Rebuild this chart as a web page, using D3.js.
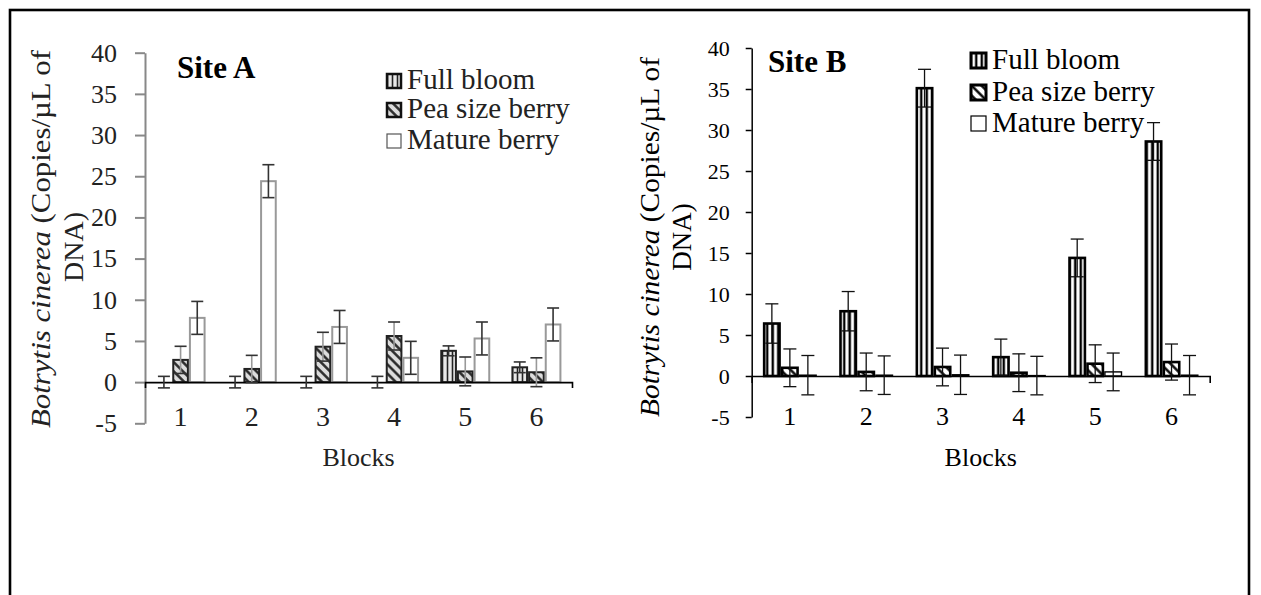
<!DOCTYPE html>
<html><head><meta charset="utf-8">
<script src="https://cdn.jsdelivr.net/npm/d3@7"></script>
<style>
html,body{margin:0;padding:0;background:#fff;}
svg{display:block;}
svg text{font-family:"Liberation Serif","Tinos","Times New Roman","DejaVu Serif",serif !important;}
</style></head>
<body>
<svg id="chart" width="1261" height="595"></svg>
<script>
const blocks = ["1","2","3","4","5","6"];
const seriesNames = ["Full bloom","Pea size berry","Mature berry"];
const yTicks = [-5,0,5,10,15,20,25,30,35,40];

const siteAFull = [0,0,0,0,3.8,1.8];
const siteAFullErr = [0.7,0.7,0.7,0.7,0.6,0.65];
const siteAPea = [2.7,1.6,4.3,5.6,1.3,1.2];
const siteAPeaErr = [1.65,1.65,1.75,1.7,1.75,1.75];
const siteAMature = [7.8,24.4,6.7,2.95,5.3,7.0];
const siteAMatureErr = [2.0,2.0,2.0,2.0,2.0,2.0];

const siteBFull = [6.4,7.9,35.1,2.3,14.4,28.6];
const siteBFullErr = [2.4,2.4,2.3,2.2,2.3,2.3];
const siteBPea = [1.0,0.5,1.1,0.4,1.5,1.7];
const siteBPeaErr = [2.3,2.3,2.3,2.3,2.3,2.2];
const siteBMature = [0.1,0.1,0.15,0.05,0.5,0.1];
const siteBMatureErr = [2.4,2.35,2.4,2.35,2.3,2.4];

const FONT = '"Liberation Serif","Tinos","Times New Roman","DejaVu Serif",serif';
const svg = d3.select("#chart");
const defs = svg.append("defs");

function vPattern(id, w, bg, fg, lw){
  const p = defs.append("pattern").attr("id",id).attr("patternUnits","userSpaceOnUse")
    .attr("width",w).attr("height",10);
  p.append("rect").attr("width",w).attr("height",10).attr("fill",bg);
  p.append("line").attr("x1",w/2).attr("x2",w/2).attr("y1",0).attr("y2",10)
    .attr("stroke",fg).attr("stroke-width",lw);
}
function dPattern(id, w, bg, fg, lw){
  const p = defs.append("pattern").attr("id",id).attr("patternUnits","userSpaceOnUse")
    .attr("width",w).attr("height",w).attr("patternTransform","rotate(-45)");
  p.append("rect").attr("width",w).attr("height",w).attr("fill",bg);
  p.append("line").attr("x1",w/2).attr("x2",w/2).attr("y1",0).attr("y2",w)
    .attr("stroke",fg).attr("stroke-width",lw);
}
vPattern("vA",5,"#e8e8e8","#222",1.6);
dPattern("dA",6.5,"#dcdcdc","#222",2.4);
vPattern("vB",5.5,"#fff","#000",2.4);
dPattern("dB",7,"#fff","#000",2.4);

// outer border
svg.append("rect").attr("x",10).attr("y",10).attr("width",1239).attr("height",640)
  .attr("fill","none").attr("stroke","#000").attr("stroke-width",2.6);

function drawPanel(cfg){
  const g = svg.append("g").attr("font-family",FONT);
  const y = d3.scaleLinear().domain([-5,40]).range([cfg.yBottom, cfg.yTop]);
  const x = d3.scaleBand().domain(blocks).range([cfg.x0, cfg.x1]);
  const s = d3.scaleBand().domain(seriesNames).range([0, cfg.groupW]);
  const off = x.bandwidth()/2 - cfg.groupW/2;

  // y axis
  const ya = g.append("g").attr("transform",`translate(${cfg.x0},0)`)
    .call(d3.axisLeft(y).tickValues(yTicks).tickSize(cfg.tickLen).tickSizeOuter(0)
      .tickPadding(cfg.tickPad).tickFormat(d=>String(d)));
  ya.attr("font-family",FONT);
  ya.select(".domain").attr("stroke",cfg.axisColor).attr("stroke-width",cfg.axisW);
  ya.selectAll(".tick line").attr("stroke",cfg.axisColor).attr("stroke-width",cfg.axisW);
  ya.selectAll(".tick text").attr("font-size",cfg.yFont).attr("fill",cfg.textColor);

  const series = [
    {name:seriesNames[0], vals:cfg.full, errs:cfg.fullErr, fill:cfg.fullFill, stroke:cfg.fullStroke, sw:cfg.fullSW},
    {name:seriesNames[1], vals:cfg.pea, errs:cfg.peaErr, fill:cfg.peaFill, stroke:cfg.peaStroke, sw:cfg.peaSW},
    {name:seriesNames[2], vals:cfg.mature, errs:cfg.matureErr, fill:"#fff", stroke:cfg.matStroke, sw:cfg.matSW}
  ];
  const bw = s.bandwidth();
  series.forEach(se=>{
    g.append("g").selectAll("rect").data(blocks).join("rect")
      .attr("x",(d)=>x(d)+off+s(se.name)+se.sw/2)
      .attr("width",bw-se.sw)
      .attr("y",(d,i)=>y(Math.max(0,se.vals[i])))
      .attr("height",(d,i)=>Math.abs(y(0)-y(se.vals[i])))
      .attr("fill",se.fill).attr("stroke",se.stroke).attr("stroke-width",se.sw)
      .attr("display",(d,i)=>se.vals[i] > 0.02 ? null : "none");
  });
  // x axis
  const xa = g.append("g").attr("transform",`translate(0,${y(0)})`)
    .call(d3.axisBottom(x).tickSizeInner(0).tickSizeOuter(cfg.endTick).tickPadding(0));
  xa.attr("font-family",FONT);
  xa.select(".domain").attr("stroke","#000").attr("stroke-width",1.6);
  xa.selectAll(".tick text").attr("dy",null).attr("y",cfg.xLabelY)
    .attr("font-size",cfg.xFont).attr("fill",cfg.textColor);

  // error bars
  series.forEach((se,si)=>{
    const eg = g.append("g");
    blocks.forEach((b,i)=>{
      const cx = x(b)+off+s(se.name)+bw/2;
      const v = se.vals[i], e = se.errs[i];
      const col = (cfg.peaErrColor && si===1) ? cfg.peaErrColor : cfg.errColor;
      eg.append("line").attr("x1",cx).attr("x2",cx).attr("y1",y(v+e)).attr("y2",y(v-e))
        .attr("stroke",col).attr("stroke-width",cfg.errW);
      [v+e, v-e].forEach(t=>{
        eg.append("line").attr("x1",cx-cfg.cap/2).attr("x2",cx+cfg.cap/2)
          .attr("y1",y(t)).attr("y2",y(t)).attr("stroke",cfg.errColor).attr("stroke-width",cfg.errW);
      });
    });
  });

  // x title
  g.append("text").attr("x",(cfg.x0+cfg.x1)/2).attr("y",cfg.xTitleY).attr("text-anchor","middle")
    .attr("font-size",cfg.xTitleFont).attr("fill",cfg.textColor).text("Blocks");

  // y title (two lines, rotated)
  const t1 = g.append("text").attr("transform",`translate(${cfg.yT1x},${cfg.yT1c}) rotate(-90)`)
    .attr("text-anchor","middle").attr("font-size",cfg.yTitleFont).attr("fill",cfg.textColor)
    .attr("textLength",cfg.yT1len).attr("lengthAdjust","spacingAndGlyphs");
  t1.append("tspan").attr("font-style","italic").text("Botrytis cinerea");
  t1.append("tspan").text(" (Copies/µL of");
  g.append("text").attr("transform",`translate(${cfg.yT2x},${cfg.yT2c}) rotate(-90)`)
    .attr("text-anchor","middle").attr("font-size",cfg.yTitleFont).attr("fill",cfg.textColor).text("DNA)");

  // site label
  g.append("text").attr("x",cfg.siteX).attr("y",cfg.siteY).attr("font-size",31)
    .attr("font-weight","bold").attr("fill","#000").text(cfg.site);

  // legend
  const lg = g.append("g");
  const fills = [cfg.fullFill, cfg.peaFill, "#fff"];
  const strokes = [cfg.legFullStroke, cfg.legPeaStroke, cfg.legMatStroke];
  seriesNames.forEach((n,i)=>{
    const by = cfg.legY[i];
    lg.append("rect").attr("x",cfg.legX).attr("y",by-cfg.sq-1).attr("width",cfg.sq).attr("height",cfg.sq)
      .attr("fill",fills[i]).attr("stroke",strokes[i][0]).attr("stroke-width",strokes[i][1]);
    lg.append("text").attr("x",cfg.legX+cfg.sq+6).attr("y",by).attr("font-size",29)
      .attr("fill",cfg.textColor).text(n);
  });
}

drawPanel({
  site:"Site A", siteX:177, siteY:78,
  x0:145, x1:572, yTop:52.7, yBottom:423.3, groupW:50,
  tickLen:10, tickPad:18, axisColor:"#888", axisW:2, yFont:26, textColor:"#222",
  full:siteAFull, fullErr:siteAFullErr, pea:siteAPea, peaErr:siteAPeaErr,
  mature:siteAMature, matureErr:siteAMatureErr,
  fullFill:"url(#vA)", fullStroke:"#222", fullSW:2,
  peaFill:"url(#dA)", peaStroke:"#222", peaSW:2,
  matStroke:"#999", matSW:2,
  endTick:6, xLabelY:43.4, xFont:28,
  errColor:"#333", peaErrColor:"#999", errW:1.6, cap:12,
  xTitleY:466, xTitleFont:26,
  yT1x:50, yT1c:239, yT1len:378, yT2x:83, yT2c:247, yTitleFont:28,
  legX:387, legY:[89,118,149], sq:14,
  legFullStroke:["#111",2.5], legPeaStroke:["#111",2.5], legMatStroke:["#555",1.2]
});

drawPanel({
  site:"Site B", siteX:768, siteY:72,
  x0:751.7, x1:1209.7, yTop:48, yBottom:417, groupW:54,
  tickLen:6, tickPad:16, axisColor:"#000", axisW:1.5, yFont:22, textColor:"#000",
  full:siteBFull, fullErr:siteBFullErr, pea:siteBPea, peaErr:siteBPeaErr,
  mature:siteBMature, matureErr:siteBMatureErr,
  fullFill:"url(#vB)", fullStroke:"#000", fullSW:2.6,
  peaFill:"url(#dB)", peaStroke:"#000", peaSW:2.6,
  matStroke:"#000", matSW:1.4,
  endTick:7, xLabelY:49, xFont:26,
  errColor:"#111", peaErrColor:null, errW:1.3, cap:13,
  xTitleY:466, xTitleFont:26,
  yT1x:659, yT1c:237, yT1len:360, yT2x:690.7, yT2c:237, yTitleFont:27,
  legX:971, legY:[69,101,132], sq:15,
  legFullStroke:["#000",3], legPeaStroke:["#000",3], legMatStroke:["#000",1.2]
});
</script>
</body></html>
